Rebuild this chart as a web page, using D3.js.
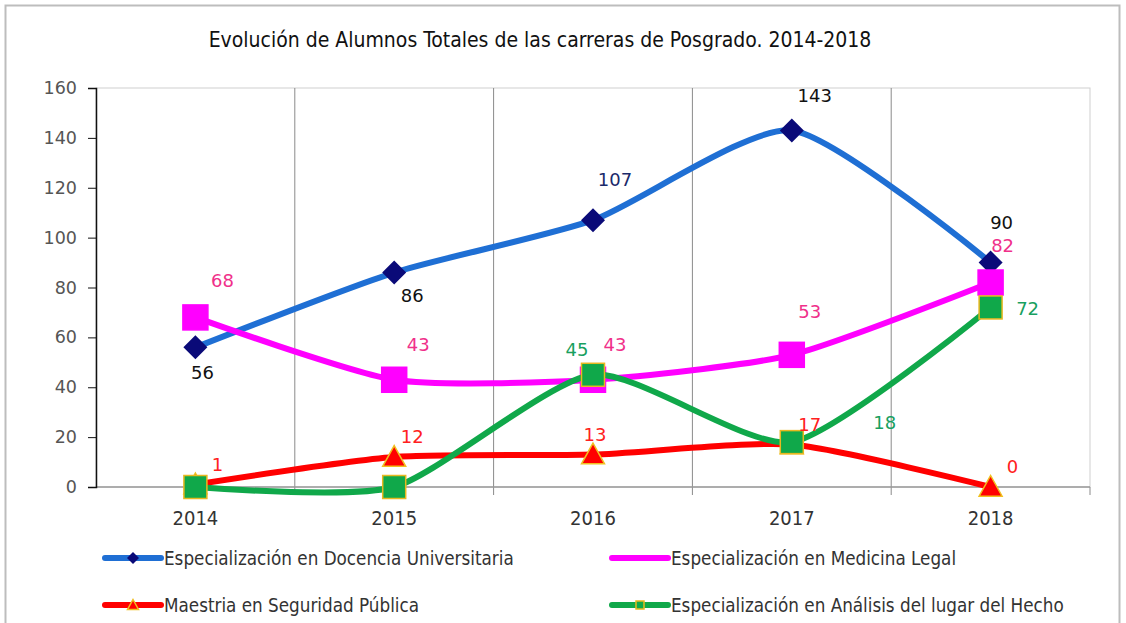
<!DOCTYPE html>
<html><head><meta charset="utf-8">
<script src="https://cdn.jsdelivr.net/npm/d3@7"></script>
<style>body{margin:0;background:#fff}</style>
</head><body>
<svg id="c" width="1126" height="623"></svg>
<script>
const years = ["2014","2015","2016","2017","2018"];
const docencia = [56, 86, 107, 143, 90];
const medicina = [68, 43, 43, 53, 82];
const seguridad = [1, 12, 13, 17, 0];
const analisis = [0, 0, 45, 18, 72];
const yTicks = [0,20,40,60,80,100,120,140,160];
const title = "Evolución de Alumnos Totales de las carreras de Posgrado. 2014-2018";
const seriesNames = ["Especialización en Docencia Universitaria","Especialización en Medicina Legal","Maestria en Seguridad Pública","Especialización en Análisis del lugar del Hecho"];

const narrow = "'Liberation Sans Narrow','DejaVu Sans Condensed',sans-serif";
const svg = d3.select("#c");
svg.append("rect").attr("x",5.5).attr("y",5.5).attr("width",1114).attr("height",640).attr("fill","#fff").attr("stroke","#bdbdbd").attr("stroke-width",2);

const L=96, R=1090, T=88, B=487;
const x = d3.scaleBand().domain(years).range([L,R]);
const y = d3.scaleLinear().domain([0,160]).range([B,T]);
const cx = d => x(d)+x.bandwidth()/2;

// plot border
svg.append("rect").attr("x",L).attr("y",T).attr("width",R-L).attr("height",B-T).attr("fill","none").attr("stroke","#cfcfcf");
// vertical gridlines
svg.append("g").selectAll("line").data(years.slice(1)).join("line")
 .attr("x1",d=>x(d)).attr("x2",d=>x(d)).attr("y1",T).attr("y2",B+8).attr("stroke","#8a8a8a");
svg.append("line").attr("x1",R).attr("x2",R).attr("y1",B).attr("y2",B+8).attr("stroke","#8a8a8a");
// x baseline
svg.append("line").attr("x1",L).attr("x2",R).attr("y1",B).attr("y2",B).attr("stroke","#9a9a9a").attr("stroke-width",1.5);

// y axis
const ya = svg.append("g").attr("transform",`translate(${L},0)`).call(d3.axisLeft(y).tickValues(yTicks).tickSize(8).tickPadding(11));
ya.select(".domain").attr("stroke","#111").attr("stroke-width",1.5);
ya.selectAll(".tick line").attr("stroke","#111");
ya.selectAll("text").attr("font-family","'DejaVu Sans',sans-serif").attr("font-size",17.5).attr("fill","#555");

// x labels
svg.append("g").selectAll("text").data(years).join("text")
 .attr("x",d=>cx(d)).attr("y",525).attr("text-anchor","middle")
 .attr("font-family",narrow).attr("font-size",20).attr("fill","#333").text(d=>d);

// title
svg.append("text").attr("x",540).attr("y",47).attr("text-anchor","middle")
 .attr("font-family",narrow).attr("font-size",21).attr("fill","#111").text(title);

const line = d3.line().x((d,i)=>cx(years[i])).y(d=>y(d)).curve(d3.curveCardinal.tension(0.35));

const series = [
 {vals:docencia, color:"#1f6fd4", marker:"diamond", mfill:"#0a0a78", mstroke:"#0a0a78", size:24},
 {vals:medicina, color:"#ff00ff", marker:"square", mfill:"#ff00ff", mstroke:"#ff00ff", size:25},
 {vals:seguridad, color:"#ff0000", marker:"triangle", mfill:"#ff0000", mstroke:"#f0c020", size:23},
 {vals:analisis, color:"#10a84a", marker:"square", mfill:"#10a84a", mstroke:"#e8b820", size:23}
];

function drawMarker(g, type, px, py, s, fill, stroke){
  if(type==="diamond"){
    const h=s/2;
    g.append("path").attr("d",`M${px},${py-h}L${px+h},${py}L${px},${py+h}L${px-h},${py}Z`).attr("fill",fill);
  } else if(type==="square"){
    g.append("rect").attr("x",px-s/2).attr("y",py-s/2).attr("width",s).attr("height",s).attr("fill",fill).attr("stroke",stroke).attr("stroke-width",1.5);
  } else {
    const h=s/2;
    g.append("path").attr("d",`M${px},${py-h}L${px+h},${py+h*0.8}L${px-h},${py+h*0.8}Z`).attr("fill",fill).attr("stroke",stroke).attr("stroke-width",1.5);
  }
}

series.forEach(s=>{
  svg.append("path").attr("d",line(s.vals)).attr("fill","none").attr("stroke",s.color).attr("stroke-width",6).attr("stroke-linecap","round");
  const g=svg.append("g");
  s.vals.forEach((v,i)=>drawMarker(g,s.marker,cx(years[i]),y(v),s.size,s.mfill,s.mstroke));
});

// data labels [series index, point index, dx, dy, color]
const labelFont="'DejaVu Sans',sans-serif";
const labels = [
 [0,0,7,25,"#111"],[0,1,18,23,"#111"],[0,2,22,-40,"#1a2a6a"],[0,3,23,-35,"#111"],[0,4,11,-40,"#111"],
 [1,0,27,-37,"#f0308a"],[1,1,24,-35,"#f0308a"],[1,2,22,-35,"#f0308a"],[1,3,18,-43,"#f0308a"],[1,4,12,-37,"#f0308a"],
 [2,0,22,-20,"#ff2020"],[2,1,18,-20,"#ff2020"],[2,2,2,-20,"#ff2020"],[2,3,18,-20,"#ff2020"],[2,4,22,-20,"#ff2020"],
 [3,2,-16,-25,"#18a060"],[3,3,93,-19,"#18a060"],[3,4,37,1,"#18a060"]
];
const lab = svg.append("g").attr("font-family",labelFont).attr("font-size",18).attr("text-anchor","middle");
labels.forEach(([si,pi,dx,dy,col])=>{
  const v=series[si].vals[pi];
  lab.append("text").attr("x",cx(years[pi])+dx).attr("y",y(v)+dy).attr("dy","0.35em").attr("fill",col).text(v);
});

// legend
const legPos=[[105,558],[612,558],[105,605],[612,605]];
series.forEach((s,i)=>{
  const [lx,ly]=legPos[i];
  const g=svg.append("g");
  g.append("line").attr("x1",lx).attr("x2",lx+56).attr("y1",ly).attr("y2",ly).attr("stroke",s.color).attr("stroke-width",6).attr("stroke-linecap","round");
  if(s.marker==="diamond") drawMarker(g,"diamond",lx+28,ly,12,s.mfill,s.mstroke);
  else if(s.marker==="triangle") drawMarker(g,"triangle",lx+28,ly,11,s.mfill,s.mstroke);
  else if(i===3) drawMarker(g,"square",lx+28,ly,8,s.mfill,s.mstroke);
  g.append("text").attr("x",lx+59).attr("y",ly).attr("dy","0.35em").attr("font-family",narrow).attr("font-size",18.7).attr("fill","#333").text(seriesNames[i]);
});
</script>
</body></html>
